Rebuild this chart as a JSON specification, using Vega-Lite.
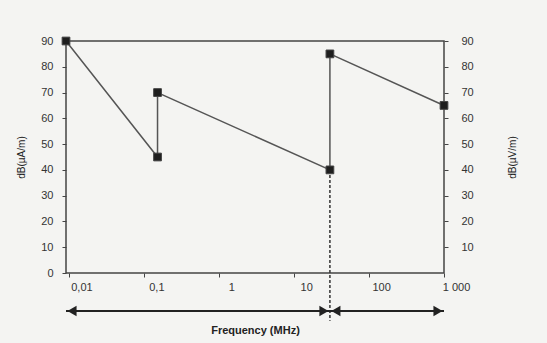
{
  "$schema": "https://vega.github.io/schema/vega-lite/v6.json",
  "width": 378,
  "height": 232,
  "autosize": {"type": "none"},
  "padding": {"left": 66, "top": 41, "right": 103, "bottom": 70},
  "background": "#f4f4f2",
  "config": {
    "view": {"stroke": "#444", "strokeWidth": 1.5},
    "font": "Liberation Sans",
    "axis": {"labelFont": "Liberation Sans", "titleFont": "Liberation Sans", "labelColor": "#333", "titleColor": "#222", "tickColor": "#444", "domain": false, "grid": false, "labelOverlap": false, "labelBound": false, "labelFlush": false}
  },
  "datasets": {
    "series": [
      {"f": 0.009, "v": 90, "i": 1},
      {"f": 0.15, "v": 45, "i": 2},
      {"f": 0.15, "v": 70, "i": 3},
      {"f": 30, "v": 40, "i": 4},
      {"f": 30, "v": 85, "i": 5},
      {"f": 1000, "v": 65, "i": 6}
    ],
    "dashed": [{"f": 30, "v": 40, "v2": -18.5}],
    "arrows": [
      {"f": 0.009, "f2": 30, "v": -14.7},
      {"f": 30, "f2": 1000, "v": -14.7}
    ],
    "headsLeft": [{"f": 0.009, "v": -14.7}, {"f": 30, "v": -14.7}],
    "headsRight": [{"f": 30, "v": -14.7}, {"f": 1000, "v": -14.7}]
  },
  "resolve": {"scale": {"y": "independent"}, "axis": {"y": "independent"}},
  "layer": [
    {
      "layer": [
        {
          "data": {"name": "dashed"},
          "mark": {"type": "rule", "stroke": "#333", "strokeWidth": 1.5, "strokeDash": [3, 2]},
          "encoding": {
            "x": {"field": "f", "type": "quantitative", "scale": {"type": "log", "domain": [0.009, 1000], "nice": false},
              "axis": {"values": [0.01, 0.1, 1, 10, 100, 1000], "labelExpr": "datum.value == 0.01 ? '0,01' : datum.value == 0.1 ? '0,1' : datum.value == 1000 ? '1 000' : datum.label", "labelOffset": 12, "tickSize": 4, "labelPadding": 4, "labelFontSize": 11, "title": "Frequency (MHz)", "titleFontSize": 11, "titleFontWeight": "bold", "titlePadding": 32}},
            "y": {"field": "v", "type": "quantitative", "scale": {"domain": [0, 90], "nice": false},
              "axis": {"orient": "left", "values": [0, 10, 20, 30, 40, 50, 60, 70, 80, 90], "tickCount": 10, "tickSize": 4, "labelPadding": 9, "labelFontSize": 11, "title": "dB(µA/m)", "titleFontSize": 10, "titleFontWeight": "normal", "titlePadding": 14}},
            "y2": {"field": "v2"}
          }
        },
        {
          "data": {"name": "arrows"},
          "mark": {"type": "rule", "stroke": "#222", "strokeWidth": 2},
          "encoding": {
            "x": {"field": "f", "type": "quantitative"},
            "x2": {"field": "f2"},
            "y": {"field": "v", "type": "quantitative"}
          }
        },
        {
          "data": {"name": "headsLeft"},
          "mark": {"type": "point", "shape": "triangle-left", "filled": true, "color": "#222", "opacity": 1, "size": 110, "xOffset": 6},
          "encoding": {
            "x": {"field": "f", "type": "quantitative"},
            "y": {"field": "v", "type": "quantitative"}
          }
        },
        {
          "data": {"name": "headsRight"},
          "mark": {"type": "point", "shape": "triangle-right", "filled": true, "color": "#222", "opacity": 1, "size": 110, "xOffset": -6},
          "encoding": {
            "x": {"field": "f", "type": "quantitative"},
            "y": {"field": "v", "type": "quantitative"}
          }
        }
      ]
    },
    {
      "layer": [
        {
          "data": {"name": "series"},
          "mark": {"type": "line", "stroke": "#555", "strokeWidth": 1.5},
          "encoding": {
            "x": {"field": "f", "type": "quantitative"},
            "y": {"field": "v", "type": "quantitative", "scale": {"domain": [0, 90], "nice": false},
              "axis": {"orient": "right", "values": [10, 20, 30, 40, 50, 60, 70, 80, 90], "tickCount": 10, "tickSize": 4, "labelPadding": 13, "labelFontSize": 11, "title": "dB(µV/m)", "titleFontSize": 10, "titleFontWeight": "normal", "titleAngle": 270, "titlePadding": 44}},
            "order": {"field": "i", "type": "quantitative"}
          }
        },
        {
          "data": {"name": "series"},
          "mark": {"type": "square", "filled": true, "color": "#1e1e1e", "stroke": "#444", "strokeWidth": 1, "opacity": 1, "size": 60},
          "encoding": {
            "x": {"field": "f", "type": "quantitative"},
            "y": {"field": "v", "type": "quantitative"}
          }
        }
      ]
    }
  ]
}
